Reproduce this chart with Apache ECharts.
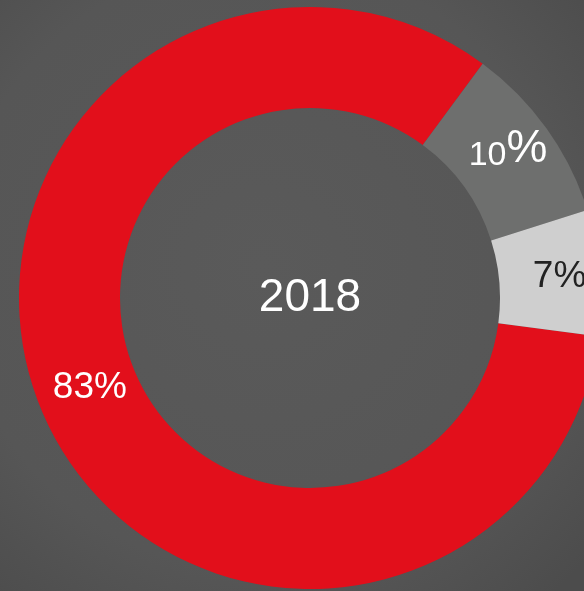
<!DOCTYPE html>
<html>
<head>
<meta charset="utf-8">
<script src="https://cdn.jsdelivr.net/npm/echarts@6/dist/echarts.min.js"></script>
<style>
html,body{margin:0;padding:0;background:#555;}
#chart{width:584px;height:591px;}
</style>
</head>
<body>
<div id="chart"></div>
<script>
const yearLabel = '2018';
const categories = ['A', 'B', 'C'];
const values = [83, 10, 7];
const colors = ['#e20f1b', '#6e6f6e', '#cfcfcf'];
const labelColors = ['#ffffff', '#ffffff', '#222222'];
const labelOffsets = [[4, -5], [0, -7], [7, 0]];

const chart = echarts.init(document.getElementById('chart'), null, {renderer: 'canvas'});
const data = categories.map((c, i) => ({
  name: c,
  value: values[i],
  itemStyle: {color: colors[i]},
  label: {color: labelColors[i], offset: labelOffsets[i]}
}));

chart.setOption({
  animation: false,
  backgroundColor: {
    type: 'radial', x: 0.45, y: 0.45, r: 0.75,
    colorStops: [{offset: 0, color: '#5a5a5a'}, {offset: 0.7, color: '#565656'}, {offset: 1, color: '#4c4c4c'}]
  },
  series: [
    {
      type: 'pie',
      center: [310, 298],
      radius: [190, 291],
      startAngle: -7.6,
      clockwise: true,
      silent: true,
      label: {
        show: true,
        position: 'inside',
        fontFamily: 'Liberation Sans',
        fontSize: 37,
        formatter: function (p) {
          if (p.dataIndex === 1) return '{a|' + p.value + '}{b|%}';
          return p.value + '%';
        },
        rich: {
          a: {fontSize: 34, color: '#ffffff', fontFamily: 'Liberation Sans', verticalAlign: 'bottom'},
          b: {fontSize: 46, color: '#ffffff', fontFamily: 'Liberation Sans'}
        }
      },
      labelLine: {show: false},
      data: data
    },
    {
      type: 'pie',
      center: [310, 298],
      radius: [0, 185],
      silent: true,
      label: {
        show: true,
        position: 'center',
        formatter: '{b}',
        color: '#ffffff',
        fontSize: 46,
        fontFamily: 'Liberation Sans'
      },
      labelLine: {show: false},
      itemStyle: {color: 'rgba(0,0,0,0)'},
      data: [{name: yearLabel, value: 1}]
    }
  ]
});
</script>
</body>
</html>
